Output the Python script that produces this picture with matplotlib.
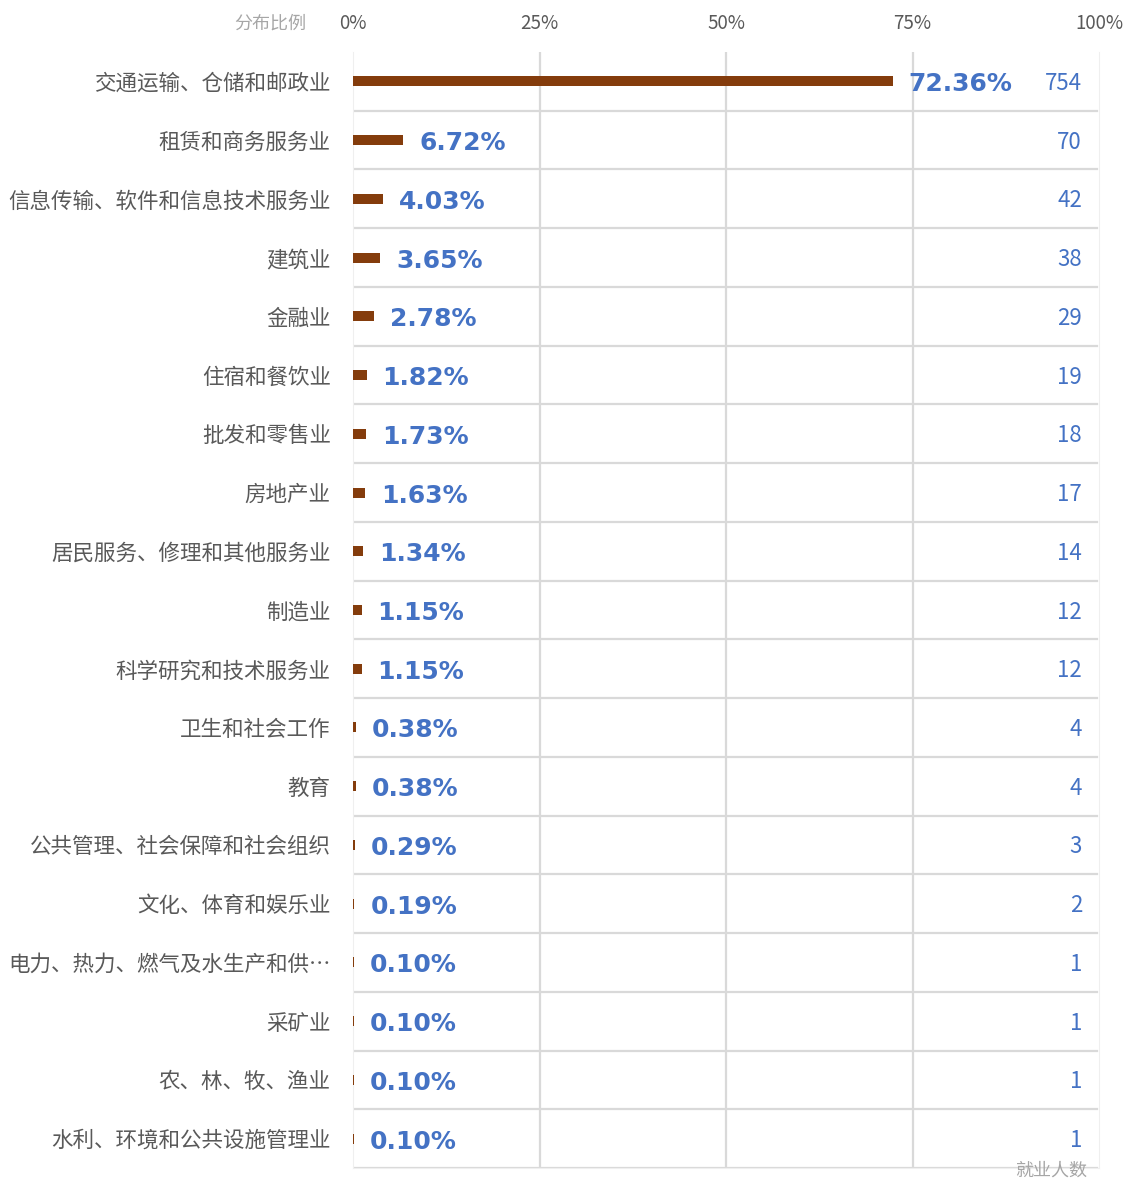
import matplotlib
matplotlib.use("Agg")
import matplotlib.pyplot as plt
import matplotlib.transforms as mtransforms

plt.rcParams['font.family'] = ['Noto Sans CJK SC', 'DejaVu Sans']

#- data
industries = [
    "交通运输、仓储和邮政业", "租赁和商务服务业", "信息传输、软件和信息技术服务业",
    "建筑业", "金融业", "住宿和餐饮业", "批发和零售业", "房地产业",
    "居民服务、修理和其他服务业", "制造业", "科学研究和技术服务业",
    "卫生和社会工作", "教育", "公共管理、社会保障和社会组织",
    "文化、体育和娱乐业", "电力、热力、燃气及水生产和供…", "采矿业",
    "农、林、牧、渔业", "水利、环境和公共设施管理业",
]
share = [72.36, 6.72, 4.03, 3.65, 2.78, 1.82, 1.73, 1.63, 1.34, 1.15, 1.15,
         0.38, 0.38, 0.29, 0.19, 0.10, 0.10, 0.10, 0.10]
people = [754, 70, 42, 38, 29, 19, 18, 17, 14, 12, 12, 4, 4, 3, 2, 1, 1, 1, 1]
xticks = [0, 25, 50, 75, 100]

bar_col = "#843C0C"
blue = "#4472C4"
grid_col = "#D9D9D9"

fig = plt.figure(figsize=(11.26, 11.78), dpi=100)
ax = fig.add_axes([353/1126, 10/1178, 746/1126, 1116/1178])

n = len(industries)
ypos = list(range(n))
ax.barh(ypos, share, height=0.17, color=bar_col, zorder=3)

ax.set_xlim(0, 100)
ax.set_ylim(n - 0.5, -0.5)

# grid
for x in [25, 50, 75]:
    ax.axvline(x, color=grid_col, lw=1.6, zorder=1)
for i in range(n):
    ax.axhline(i + 0.5, xmin=0.002, xmax=0.997, color=grid_col, lw=1.6, zorder=1)

ax.spines["top"].set_visible(False)
for s in ["left", "right", "bottom"]:
    ax.spines[s].set_color("#EFEFEF")

# ticks
ax.xaxis.tick_top()
ax.set_xticks(xticks)
ax.set_xticklabels(["%d%%" % t for t in xticks])
ax.tick_params(axis="x", length=0, pad=13, labelsize=13.5, labelcolor="#595959")
ax.set_yticks(ypos)
ax.set_yticklabels(industries)
ax.tick_params(axis="y", length=0, pad=16, labelsize=15.5, labelcolor="#595959")

# value labels
off = mtransforms.offset_copy(ax.transData, fig=fig, x=16, y=-3, units="dots")
for y, v in zip(ypos, share):
    ax.text(v, y, "%.2f%%" % v, transform=off, ha="left", va="center",
            fontsize=18, fontweight="bold", family="DejaVu Sans", color=blue, zorder=4)

trans = mtransforms.blended_transform_factory(ax.transAxes, ax.transData)
trans = trans + mtransforms.ScaledTranslation(-17/100, -2/100, fig.dpi_scale_trans)
for y, p in zip(ypos, people):
    ax.text(1.0, y, str(p), transform=trans, ha="right", va="center",
            fontsize=16, color=blue, zorder=4)

fig.text(306/1126, 1 - 24/1178, "分布比例", ha="right", va="center",
         fontsize=13, color="#A6A6A6")
fig.text(1087/1126, 1 - 1171/1178, "就业人数", ha="right", va="center",
         fontsize=13, color="#A6A6A6")

fig.savefig("out.png", dpi=100, facecolor="white")
